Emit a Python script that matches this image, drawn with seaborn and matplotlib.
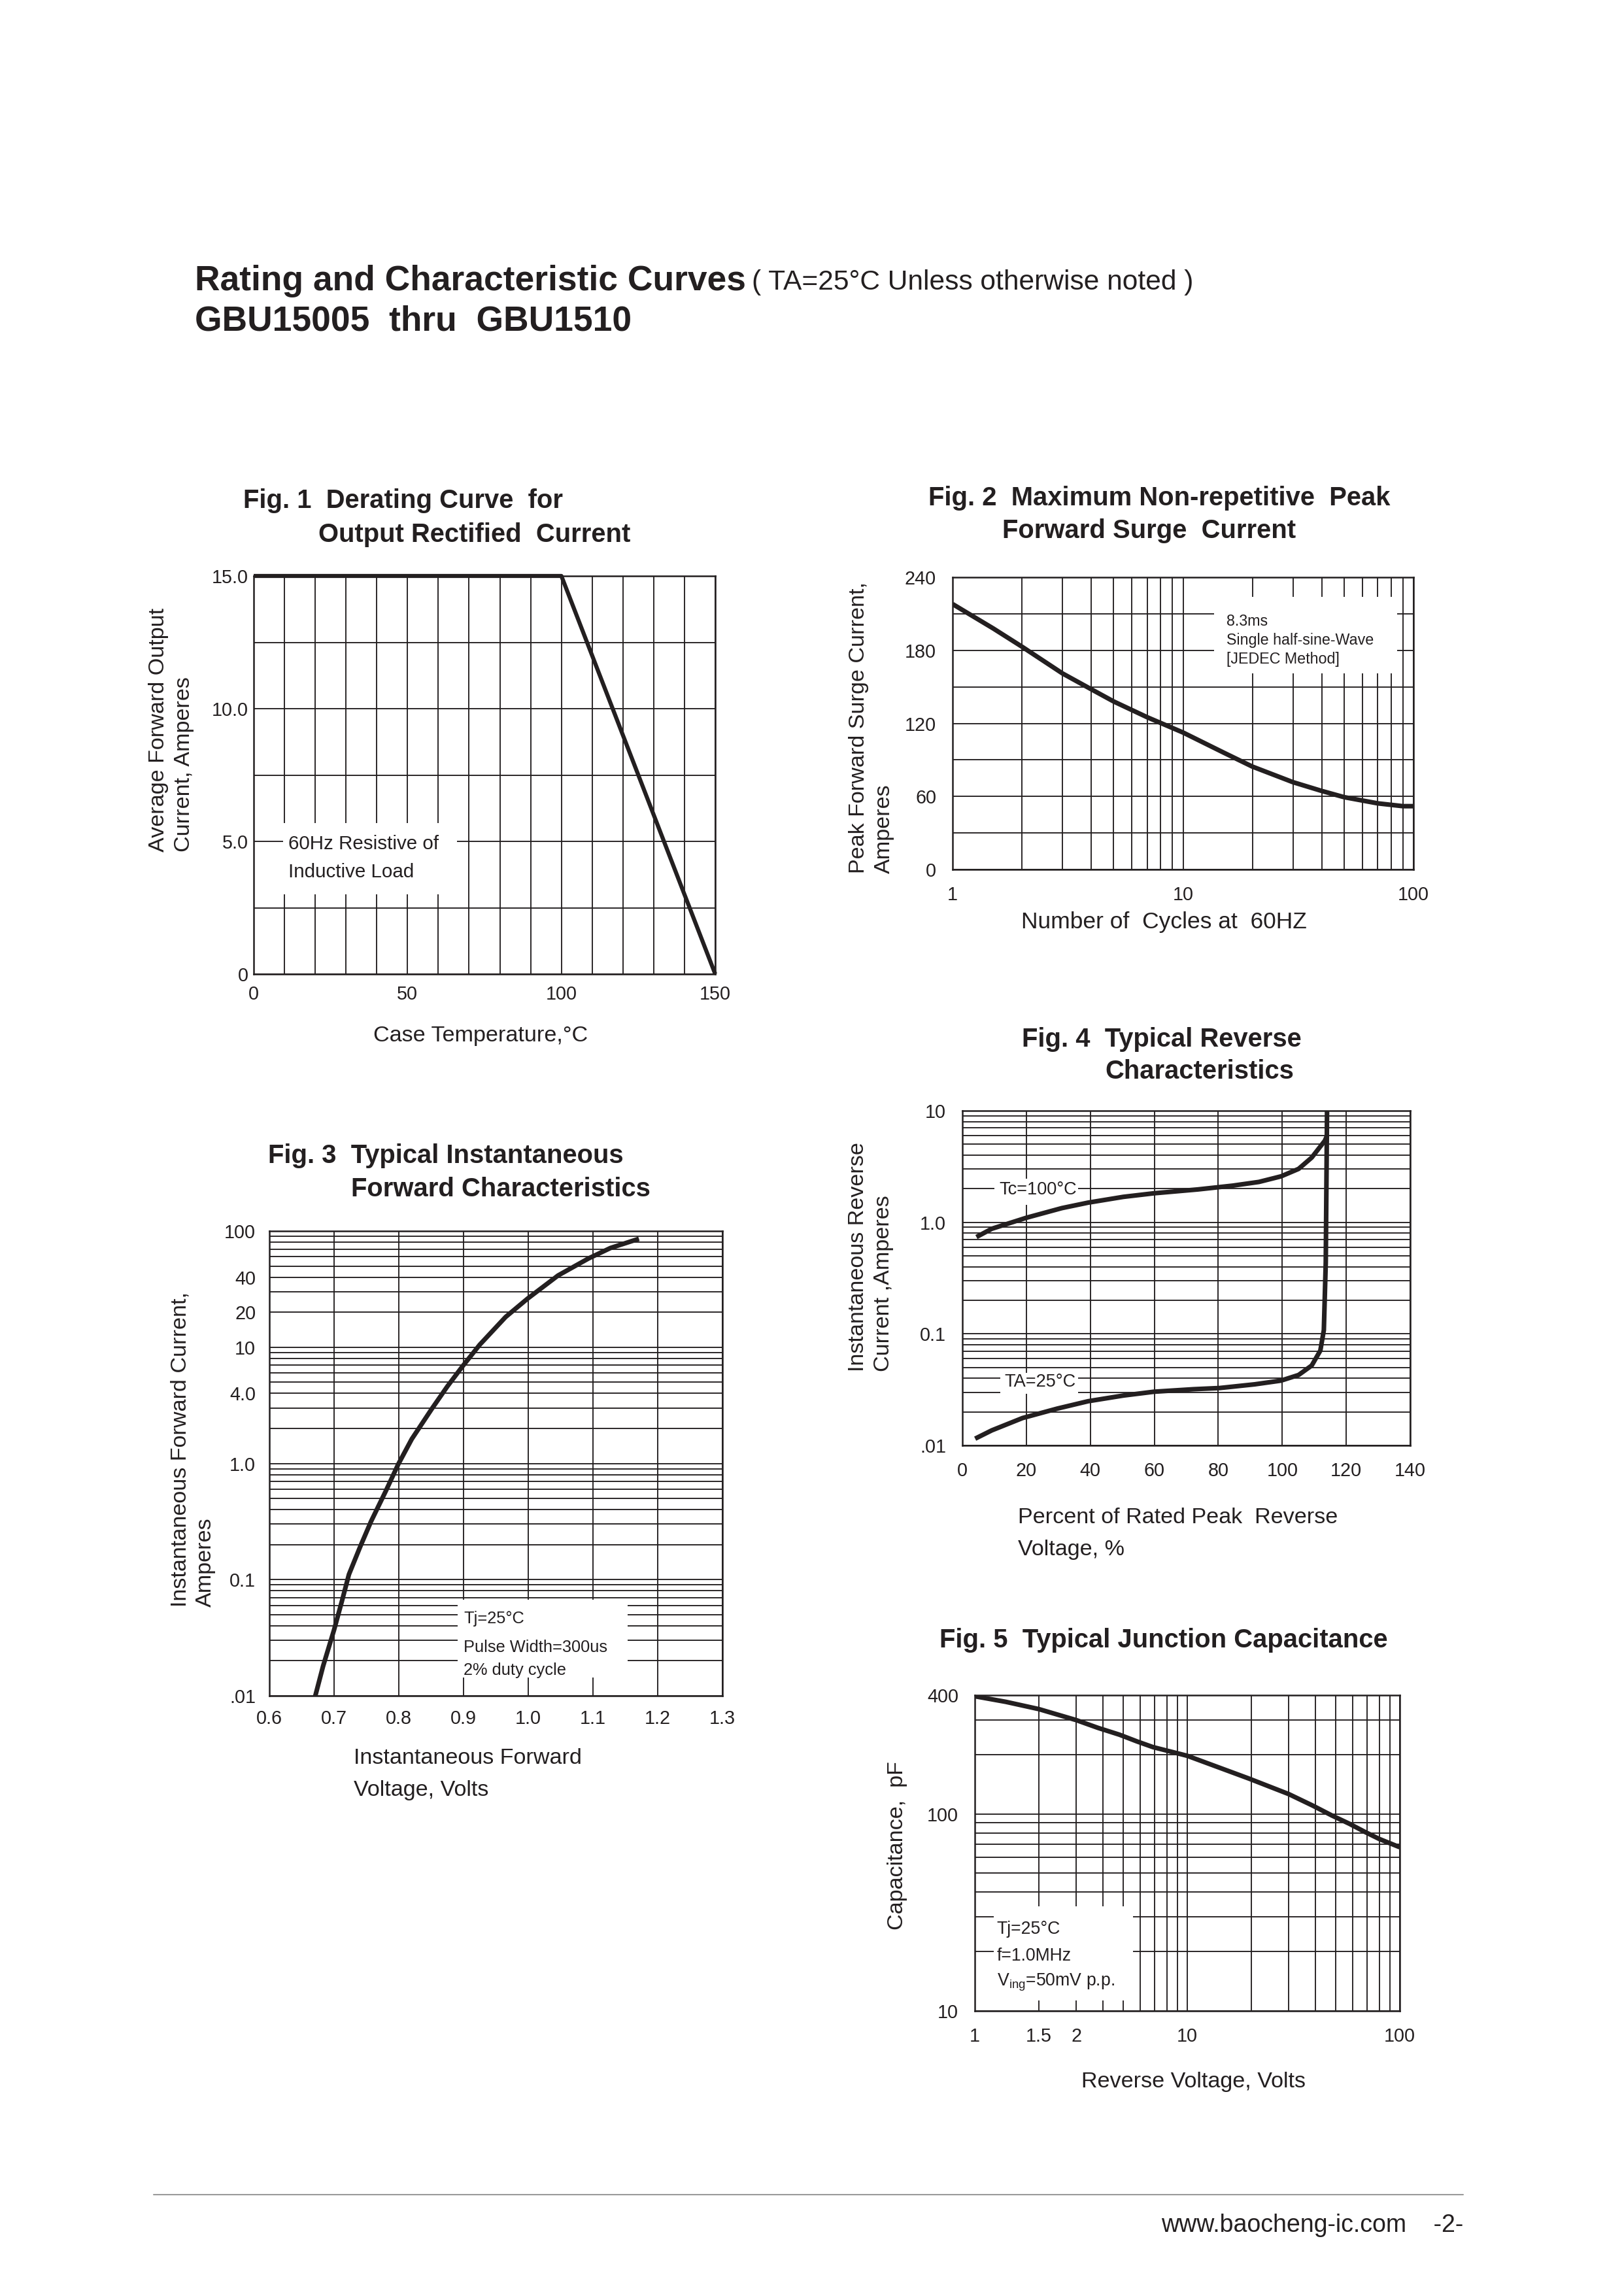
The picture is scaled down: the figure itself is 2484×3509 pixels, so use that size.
import numpy as np
import pandas as pd
import matplotlib
matplotlib.use("Agg")
import matplotlib.pyplot as plt
from matplotlib.patches import Rectangle
from matplotlib.ticker import MultipleLocator, LogLocator, NullFormatter
import seaborn as sns

# ---- values ----
# Fig. 1 derating curve
fig1_temp = [0, 100, 150]
fig1_current = [15.0, 15.0, 0.0]

# Fig. 2 surge current
fig2_cycles = [1, 1.5, 2, 3, 4, 5, 7, 10, 15, 20, 30, 40, 50, 70, 90, 100]
fig2_current = [218, 198, 183, 161, 148, 138, 125, 112.5, 96, 84.5, 71.7, 64.5, 59.4, 54.3, 52, 52]

# Fig. 3 forward characteristics
fig3_volts = [0.671, 0.683, 0.700, 0.712, 0.723, 0.740, 0.757, 0.780, 0.799, 0.820, 0.851, 0.875,
              0.898, 0.925, 0.965, 0.999, 1.046, 1.093, 1.127, 1.171]
fig3_amps = [0.01, 0.018, 0.037, 0.065, 0.111, 0.19, 0.316, 0.58, 0.98, 1.62, 2.95, 4.6,
             6.8, 10.5, 18.2, 26.2, 41.4, 58.0, 71.4, 85.7]

# Fig. 4 reverse characteristics
fig4_pct_hot = [4.4, 9.2, 20.1, 31.1, 39.3, 50.3, 59.9, 73.6, 84.5, 92.7, 99.6, 105.1, 109.2, 113.3, 113.9]
fig4_amps_hot = [0.738, 0.875, 1.10, 1.34, 1.50, 1.69, 1.82, 1.97, 2.13, 2.30, 2.58, 3.01, 3.80, 5.38, 5.9]
fig4_pct_cold = [4.0, 9.2, 18.8, 29.7, 39.3, 50.3, 59.9, 72.2, 80.4, 91.4, 99.6, 105.1, 109.2, 111.9, 113.0, 113.6, 113.8, 114.0]
fig4_amps_cold = [0.0115, 0.01365, 0.0176, 0.0214, 0.0249, 0.028, 0.0303, 0.0319, 0.0327, 0.0353, 0.0381,
                  0.0428, 0.052, 0.0708, 0.108, 0.436, 2.05, 10.0]

# Fig. 5 junction capacitance
fig5_volts = [1, 1.4, 2, 3, 3.8, 4.8, 5.8, 6.9, 10, 19.5, 30, 39, 48, 58, 68.5, 80, 100]
fig5_pf = [395, 370, 340, 299, 273, 252, 233, 218, 197, 151, 126, 110, 98, 89, 81, 74.6, 67.7]

# tick labels as printed on the sheet
fig1_xticks = [0, 50, 100, 150]
fig1_xlabels = ["0", "50", "100", "150"]
fig1_yticks = [0, 5, 10, 15]
fig1_ylabels = ["0", "5.0", "10.0", "15.0"]
fig2_xticks = [1, 10, 100]
fig2_xlabels = ["1", "10", "100"]
fig2_yticks = [0, 60, 120, 180, 240]
fig2_ylabels = ["0", "60", "120", "180", "240"]
fig3_xticks = [0.6, 0.7, 0.8, 0.9, 1.0, 1.1, 1.2, 1.3]
fig3_xlabels = ["0.6", "0.7", "0.8", "0.9", "1.0", "1.1", "1.2", "1.3"]
fig3_yticks = [0.01, 0.1, 1, 4, 10, 20, 40, 100]
fig3_ylabels = [".01", "0.1", "1.0", "4.0", "10", "20", "40", "100"]
fig4_xticks = [0, 20, 40, 60, 80, 100, 120, 140]
fig4_xlabels = ["0", "20", "40", "60", "80", "100", "120", "140"]
fig4_yticks = [0.01, 0.1, 1, 10]
fig4_ylabels = [".01", "0.1", "1.0", "10"]
fig5_xticks = [1, 2, 3, 10, 100]
fig5_xlabels = ["1", "1.5", "2", "10", "100"]
fig5_yticks = [10, 100, 400]
fig5_ylabels = ["10", "100", "400"]

INK = "#231f20"
W, H = 2484, 3509
TICK_FS = 6.9
LABEL_FS = 8.2
TITLE_FS = 9.6

sns.set_style("white")
plt.rcParams["font.family"] = ["Liberation Sans", "DejaVu Sans"]
plt.rcParams["mathtext.fontset"] = "custom"
plt.rcParams["mathtext.rm"] = "Liberation Sans"
plt.rcParams["mathtext.it"] = "Liberation Sans"
plt.rcParams["text.color"] = INK

fig = plt.figure(figsize=(W / 300, H / 300), dpi=300)


def add_ax(x0, y0, x1, y1):
    # pixel box on the page -> figure fraction
    return fig.add_axes([x0 / W, 1 - y1 / H, (x1 - x0) / W, (y1 - y0) / H])


def ftext(x, y, s, **kw):
    fig.text(x / W, 1 - y / H, s, **kw)


def style(ax, pad=5):
    ax.set_axisbelow(True)
    ax.grid(which="both", color=INK, linewidth=0.45)
    ax.tick_params(which="both", length=0, labelsize=TICK_FS, colors=INK, pad=pad)
    for sp in ax.spines.values():
        sp.set_visible(True)
        sp.set_color(INK)
        sp.set_linewidth(0.6)
    ax.set_xlabel("")
    ax.set_ylabel("")


def blank(ax, x0, x1, y0, y1):
    ax.add_patch(Rectangle((x0, y0), x1 - x0, y1 - y0, facecolor="white",
                           edgecolor="none", zorder=1.5))


def curve(ax, x, y, lw=1.7, clip=True):
    sns.lineplot(x=x, y=y, ax=ax, color=INK, linewidth=lw, estimator=None,
                 sort=False, clip_on=clip, solid_capstyle="butt", zorder=3)


def title(x1, y1, s1, x2=None, y2=None, s2=None):
    ftext(x1, y1, s1, fontsize=TITLE_FS, fontweight="bold", ha="left", va="center")
    if s2:
        ftext(x2, y2, s2, fontsize=TITLE_FS, fontweight="bold", ha="left", va="center")


def ylab(xc, ybot, s):
    ftext(xc, ybot, s, fontsize=LABEL_FS, rotation=90, ha="center", va="bottom",
          multialignment="left", linespacing=1.3)


# ---- page header ----
ftext(298, 430, "Rating and Characteristic Curves", fontsize=12.8, fontweight="bold", va="center")
ftext(1150, 432, "( TA=25°C Unless otherwise noted )", fontsize=10.2, va="center")
ftext(298, 492, "GBU15005  thru  GBU1510", fontsize=12.8, fontweight="bold", va="center")

# ---- Fig. 1 ----
ax1 = add_ax(388, 881, 1094, 1490)
ax1.set_xlim(0, 150)
ax1.set_ylim(0, 15)
ax1.set_xticks(fig1_xticks, fig1_xlabels)
ax1.set_yticks(fig1_yticks, fig1_ylabels)
ax1.xaxis.set_minor_locator(MultipleLocator(10))
ax1.yaxis.set_minor_locator(MultipleLocator(2.5))
blank(ax1, 9.6, 66, 3.0, 5.7)
curve(ax1, fig1_temp, fig1_current, lw=1.5, clip=False)
style(ax1)
ax1.tick_params(axis="y", pad=2)
ax1.tick_params(axis="x", pad=4)
ax1.text(11.3, 4.9, "60Hz Resistive of", fontsize=7.1, va="center", zorder=4)
ax1.text(11.3, 3.85, "Inductive Load", fontsize=7.1, va="center", zorder=4)
title(372, 766, "Fig. 1  Derating Curve  for", 487, 818, "Output Rectified  Current")
ftext(735, 1584, "Case Temperature,°C", fontsize=LABEL_FS, ha="center", va="center")
ylab(262, 1303, "Average Forward Output\nCurrent, Amperes")

# ---- Fig. 2 ----
ax2 = add_ax(1457, 883, 2162, 1330)
ax2.set_xscale("log")
ax2.set_xlim(1, 100)
ax2.set_ylim(0, 240)
ax2.set_xticks(fig2_xticks, fig2_xlabels)
ax2.set_yticks(fig2_yticks, fig2_ylabels)
ax2.xaxis.set_minor_locator(LogLocator(base=10, subs=np.arange(2, 10)))
ax2.xaxis.set_minor_formatter(NullFormatter())
ax2.yaxis.set_minor_locator(MultipleLocator(30))
blank(ax2, 13.6, 85, 161, 224)
curve(ax2, fig2_cycles, fig2_current)
style(ax2, pad=6)
ax2.text(0.595, 0.875, "8.3ms\nSingle half-sine-Wave\n[JEDEC Method]", transform=ax2.transAxes,
         fontsize=5.6, va="top", ha="left", linespacing=1.35, zorder=4)
title(1420, 762, "Fig. 2  Maximum Non-repetitive  Peak", 1533, 812, "Forward Surge  Current")
ftext(1780, 1410, "Number of  Cycles at  60HZ", fontsize=LABEL_FS + 0.3, ha="center", va="center")
ylab(1333, 1336, "Peak Forward Surge Current,\nAmperes")

# ---- Fig. 3 ----
ax3 = add_ax(412, 1883, 1105, 2594)
ax3.set_yscale("log")
ax3.set_xlim(0.6, 1.3)
ax3.set_ylim(0.01, 100)
ax3.set_xticks(fig3_xticks, fig3_xlabels)
ax3.set_yticks(fig3_yticks, fig3_ylabels)
ax3.yaxis.set_minor_locator(LogLocator(base=10, subs=np.arange(1, 10)))
ax3.yaxis.set_minor_formatter(NullFormatter())
blank(ax3, 0.891, 1.1535, 0.0144, 0.067)
curve(ax3, fig3_volts, fig3_amps)
style(ax3, pad=5)
ax3.text(0.9, 0.046, "Tj=25°C", fontsize=6.1, va="center", zorder=4)
ax3.text(0.9, 0.0262, "Pulse Width=300us", fontsize=6.1, va="center", zorder=4)
ax3.text(0.9, 0.0165, "2% duty cycle", fontsize=6.1, va="center", zorder=4)
title(410, 1768, "Fig. 3  Typical Instantaneous", 537, 1819, "Forward Characteristics")
ftext(541, 2689, "Instantaneous Forward", fontsize=LABEL_FS, ha="left", va="center")
ftext(541, 2738, "Voltage, Volts", fontsize=LABEL_FS, ha="left", va="center")
ylab(295, 2458, "Instantaneous Forward Current,\nAmperes")

# ---- Fig. 4 ----
ax4 = add_ax(1472, 1699, 2157, 2211)
ax4.set_yscale("log")
ax4.set_xlim(0, 140)
ax4.set_ylim(0.01, 10)
ax4.set_xticks(fig4_xticks, fig4_xlabels)
ax4.set_yticks(fig4_yticks, fig4_ylabels)
ax4.yaxis.set_minor_locator(LogLocator(base=10, subs=np.arange(2, 10)))
ax4.yaxis.set_minor_formatter(NullFormatter())
blank(ax4, 10, 36.2, 1.44, 2.47)
blank(ax4, 11.9, 36.2, 0.029, 0.0446)
curve(ax4, fig4_pct_hot, fig4_amps_hot)
curve(ax4, fig4_pct_cold, fig4_amps_cold)
style(ax4, pad=6)
ax4.text(11.5, 1.95, "Tc=100°C", fontsize=6.5, va="center", zorder=4)
ax4.text(13.2, 0.037, "TA=25°C", fontsize=6.5, va="center", zorder=4)
title(1563, 1590, "Fig. 4  Typical Reverse", 1690, 1639, "Characteristics")
ftext(1557, 2322, "Percent of Rated Peak  Reverse", fontsize=LABEL_FS, ha="left", va="center")
ftext(1557, 2371, "Voltage, %", fontsize=LABEL_FS, ha="left", va="center")
ylab(1332, 2098, "Instantaneous Reverse\nCurrent ,Amperes")

# ---- Fig. 5 ----
ax5 = add_ax(1491, 2593, 2141, 3076)
ax5.set_xscale("log")
ax5.set_yscale("log")
ax5.set_xlim(1, 100)
ax5.set_ylim(10, 400)
ax5.set_xticks(fig5_xticks, fig5_xlabels)
ax5.set_yticks(fig5_yticks, fig5_ylabels)
ax5.xaxis.set_minor_locator(LogLocator(base=10, subs=np.arange(2, 10)))
ax5.xaxis.set_minor_formatter(NullFormatter())
ax5.yaxis.set_minor_locator(LogLocator(base=10, subs=np.arange(2, 10)))
ax5.yaxis.set_minor_formatter(NullFormatter())
blank(ax5, 1.23, 5.55, 11.3, 34)
curve(ax5, fig5_volts, fig5_pf)
style(ax5, pad=6)
ax5.text(1.27, 26.0, "Tj=25°C", fontsize=6.4, va="center", zorder=4)
ax5.text(1.27, 19.0, "f=1.0MHz", fontsize=6.4, va="center", zorder=4)
ax5.text(1.27, 14.0, "V$_{\\mathrm{ing}}$=50mV p.p.", fontsize=6.4, va="center", zorder=4)
title(1437, 2509, "Fig. 5  Typical Junction Capacitance")
ftext(1826, 3185, "Reverse Voltage, Volts", fontsize=LABEL_FS, ha="center", va="center")
ylab(1372, 2952, "Capacitance,  pF")

# ---- footer ----
fig.add_artist(plt.Line2D([235 / W, 2238 / W], [1 - 3357 / H, 1 - 3357 / H],
                          color="#9a9a9a", linewidth=0.5))
ftext(2238, 3404, "www.baocheng-ic.com    -2-", fontsize=9, ha="right", va="center")

fig.savefig("out.png", dpi=300, facecolor="white")
